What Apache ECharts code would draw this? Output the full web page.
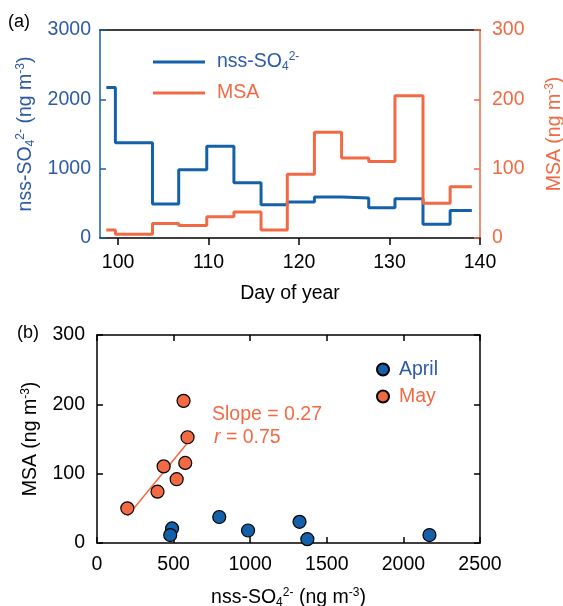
<!DOCTYPE html>
<html>
<head>
<meta charset="utf-8">
<script src="https://cdn.jsdelivr.net/npm/echarts@6/dist/echarts.min.js"></script>
<style>
  html, body { margin: 0; padding: 0; background: #fff; }
  #chart { width: 563px; height: 606px; }
</style>
</head>
<body>
<div id="chart"></div>
<script>
// sample interval boundaries (day of year), one more than the values
var dayEdges = [98.7, 99.7, 103.8, 106.7, 109.8, 112.8, 115.8, 118.7, 121.7, 124.7, 127.7, 130.6, 133.7, 136.7, 139.1]
var so4 = [2170, 1373, 490, 986, 1322, 798, 478, 520, 591, 576, 435, 565, 198, 395]
var msa = [11.5, 5.5, 21, 18, 30.5, 37.5, 11.5, 92, 152.5, 115.5, 110.5, 205, 50, 74]
var month = ['April', 'April', 'April', 'April', 'April', 'April', 'April', 'May', 'May', 'May', 'May', 'May', 'May', 'May']
var dayTicks = [100, 110, 120, 130, 140]
// May regression line end points
var fitX = [200, 593]
var fitY = [39, 145]

var blue = '#1461aa'
var blueText = '#2d5ba8'
var orange = '#f26a43'
var font = 'Liberation Sans, Arial, sans-serif'
var fs = 19.5

var myChart = echarts.init(document.getElementById('chart'))

function stepData (vals) {
  return dayEdges.map(function (d, i) {
    return [d, vals[Math.min(i, vals.length - 1)]]
  })
}
function monthPoints (m) {
  var out = []
  so4.forEach(function (v, i) {
    if (month[i] === m) out.push([v, msa[i]])
  })
  return out
}
function plain (v) {
  return String(v)
}

var supSub = {
  sub: { fontSize: 12, lineHeight: 11, verticalAlign: 'bottom' },
  sup: { fontSize: 12, lineHeight: 11, verticalAlign: 'top' }
}

function frameAxis (color, extra) {
  var ax = {
    type: 'value',
    axisLine: { onZero: false, lineStyle: { color: color, width: 1.5 } },
    axisTick: { inside: true, length: 6, lineStyle: { color: color, width: 1.5 } },
    axisLabel: { color: color, fontSize: fs, fontFamily: font, formatter: plain },
    splitLine: { show: false }
  }
  return Object.assign(ax, extra)
}

var option = {
  animation: false,
  textStyle: { fontFamily: font },
  grid: [
    { left: 100, top: 30, width: 380, height: 208, outerBoundsMode: 'none', containLabel: false },
    { left: 97, top: 335, width: 383, height: 208, outerBoundsMode: 'none', containLabel: false }
  ],
  xAxis: [
    frameAxis('#000', {
      gridIndex: 0, min: 98, max: 140,
      axisTick: { inside: false, length: 7, customValues: dayTicks, lineStyle: { color: '#000', width: 1.5 } },
      axisLabel: { customValues: dayTicks, color: '#000', fontSize: fs, fontFamily: font, margin: 15, formatter: plain },
      name: 'Day of year', nameLocation: 'middle', nameGap: 46,
      nameTextStyle: { color: '#000', fontSize: fs, fontFamily: font }
    }),
    frameAxis('#000', {
      gridIndex: 0, position: 'top', min: 98, max: 140,
      axisTick: { show: false }, axisLabel: { show: false }
    }),
    frameAxis('#000', {
      gridIndex: 1, min: 0, max: 2500, interval: 500,
      axisLabel: { color: '#000', fontSize: fs, fontFamily: font, margin: 12, formatter: plain },
      name: 'nss-SO{sub|4}{sup|2-} (ng m{sup|-3})', nameLocation: 'middle', nameGap: 44,
      nameTextStyle: { color: '#000', fontSize: fs, lineHeight: 22, fontFamily: font, rich: supSub }
    }),
    frameAxis('#000', {
      gridIndex: 1, position: 'top', min: 0, max: 2500, interval: 500,
      axisLabel: { show: false }
    })
  ],
  yAxis: [
    frameAxis(blue, {
      gridIndex: 0, position: 'left', min: 0, max: 3000, interval: 1000,
      axisLabel: { color: blueText, fontSize: fs, fontFamily: font, margin: 9, formatter: plain },
      name: 'nss-SO{sub|4}{sup|2-} (ng m{sup|-3})', nameLocation: 'middle', nameGap: 58, nameRotate: 90,
      nameTextStyle: { color: blueText, fontSize: fs, lineHeight: 22, fontFamily: font, rich: supSub }
    }),
    frameAxis(orange, {
      gridIndex: 0, position: 'right', min: 0, max: 300, interval: 100,
      axisLabel: { color: orange, fontSize: fs, fontFamily: font, margin: 12, formatter: plain },
      name: 'MSA (ng m{sup|-3})', nameLocation: 'middle', nameGap: 64, nameRotate: 90,
      nameTextStyle: { color: orange, fontSize: fs, lineHeight: 22, fontFamily: font, rich: supSub }
    }),
    frameAxis('#000', {
      gridIndex: 1, position: 'left', min: 0, max: 300, interval: 100,
      axisLabel: { color: '#000', fontSize: fs, fontFamily: font, margin: 12, formatter: plain },
      name: 'MSA (ng m{sup|-3})', nameLocation: 'middle', nameGap: 42, nameRotate: 90,
      nameTextStyle: { color: '#000', fontSize: fs, lineHeight: 22, fontFamily: font, rich: supSub }
    }),
    frameAxis('#000', {
      gridIndex: 1, position: 'right', min: 0, max: 300, interval: 100,
      axisLabel: { show: false }
    })
  ],
  legend: [
    {
      orient: 'vertical', left: 148, top: 46, itemGap: 9,
      icon: 'rect', itemWidth: 52, itemHeight: 3,
      data: ['nss', 'MSA'],
      formatter: function (name) {
        return name === 'nss' ? '{n|nss-SO}{ns|4}{nu|2-}' : '{m|MSA}'
      },
      textStyle: {
        fontSize: fs, lineHeight: 22, fontFamily: font,
        rich: {
          n: { color: blueText, fontSize: fs, lineHeight: 22, padding: [0, 0, 0, 7] },
          ns: { color: blueText, fontSize: 12, lineHeight: 11, verticalAlign: 'bottom' },
          nu: { color: blueText, fontSize: 12, lineHeight: 11, verticalAlign: 'top' },
          m: { color: orange, fontSize: fs, lineHeight: 22, padding: [0, 0, 0, 7] }
        }
      }
    },
    {
      orient: 'vertical', left: 371, top: 354, itemGap: 6,
      icon: 'circle', itemWidth: 22, itemHeight: 12,
      data: [
        { name: 'April', textStyle: { color: blueText } },
        { name: 'May', textStyle: { color: orange } }
      ],
      textStyle: { fontSize: fs, lineHeight: 21, fontFamily: font }
    }
  ],
  graphic: [
    { type: 'text', left: 8, top: 13, style: { text: '(a)', fontSize: 18, fontFamily: font, fill: '#000' } },
    { type: 'text', left: 17, top: 324, style: { text: '(b)', fontSize: 18, fontFamily: font, fill: '#000' } },
    { type: 'text', left: 212, top: 405, style: { text: 'Slope = 0.27', fontSize: fs, fontFamily: font, fill: orange } },
    {
      type: 'text', left: 214, top: 428,
      style: {
        text: '{i|r} = 0.75', fontSize: fs, fontFamily: font, fill: orange,
        rich: { i: { fontStyle: 'italic', fontSize: fs, fill: orange } }
      }
    }
  ],
  series: [
    {
      name: 'nss', type: 'line', xAxisIndex: 0, yAxisIndex: 0, step: 'end',
      symbol: 'none', color: blue, lineStyle: { color: blue, width: 3 },
      data: stepData(so4)
    },
    {
      name: 'MSA', type: 'line', xAxisIndex: 0, yAxisIndex: 1, step: 'end',
      symbol: 'none', color: orange, lineStyle: { color: orange, width: 3 },
      data: stepData(msa)
    },
    {
      name: 'fit', type: 'line', xAxisIndex: 2, yAxisIndex: 2, symbol: 'none', z: 1,
      lineStyle: { color: orange, width: 1.5 },
      data: fitX.map(function (x, i) { return [x, fitY[i]] })
    },
    {
      name: 'April', type: 'scatter', xAxisIndex: 2, yAxisIndex: 2, symbolSize: 13, z: 3,
      itemStyle: { color: blue, borderColor: '#000', borderWidth: 1.2, opacity: 1 },
      data: monthPoints('April')
    },
    {
      name: 'May', type: 'scatter', xAxisIndex: 2, yAxisIndex: 2, symbolSize: 13, z: 3,
      itemStyle: { color: orange, borderColor: '#000', borderWidth: 1.2, opacity: 1 },
      data: monthPoints('May')
    }
  ]
}
myChart.setOption(option)
</script>
</body>
</html>
